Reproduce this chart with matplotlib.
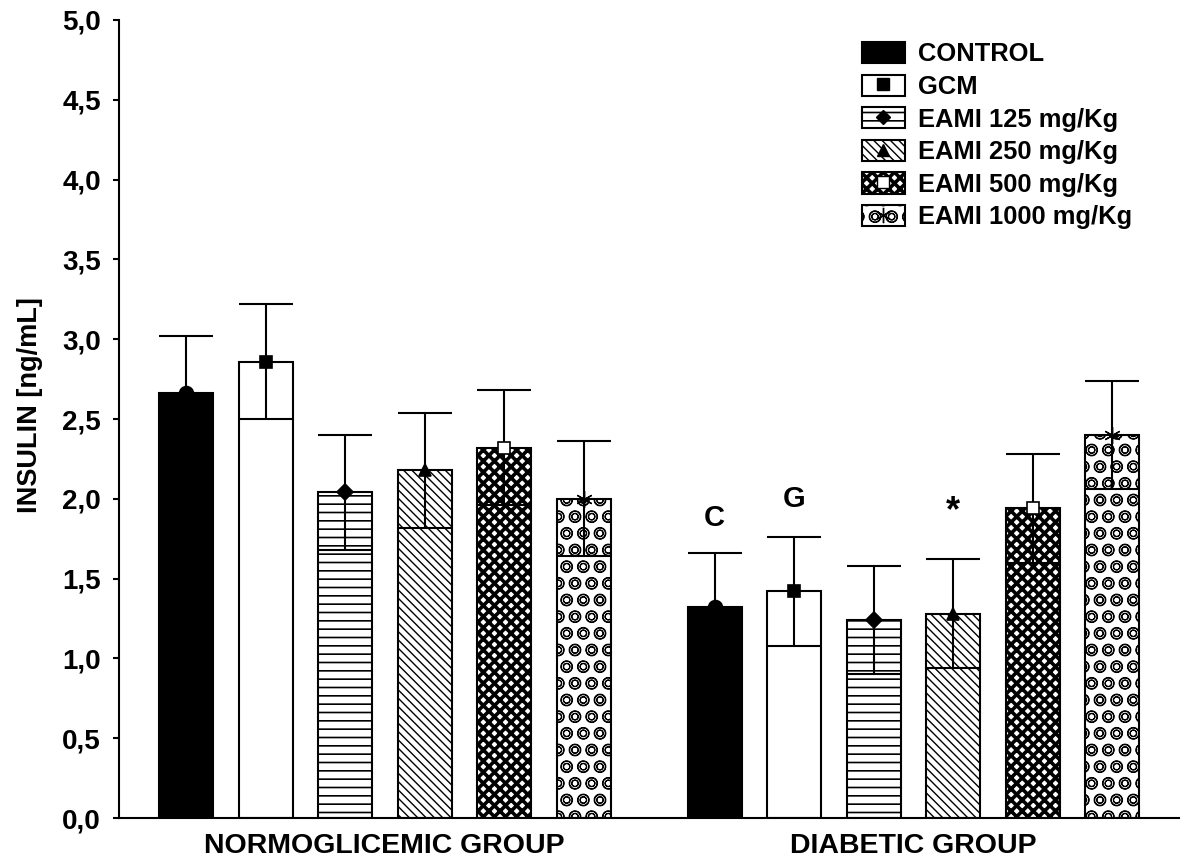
import numpy as np
import matplotlib
matplotlib.use('Agg')
import matplotlib.pyplot as plt
from matplotlib.lines import Line2D
from matplotlib.patches import Patch, Rectangle
from matplotlib.legend_handler import HandlerPatch

plt.rcParams['font.family'] = ['Liberation Sans', 'DejaVu Sans']
plt.rcParams['font.weight'] = 'bold'

groups = ['NORMOGLICEMIC GROUP', 'DIABETIC GROUP']
treatments = ['CONTROL', 'GCM', 'EAMI 125 mg/Kg', 'EAMI 250 mg/Kg',
              'EAMI 500 mg/Kg', 'EAMI 1000 mg/Kg']
# mean insulin and SEM, one row per group
means = np.array([[2.66, 2.86, 2.04, 2.18, 2.32, 2.00],
                  [1.32, 1.42, 1.24, 1.28, 1.94, 2.40]])
sems = np.array([[0.36, 0.36, 0.36, 0.36, 0.36, 0.36],
                 [0.34, 0.34, 0.34, 0.34, 0.34, 0.34]])
# significance letters in the diabetic group
marks = {0: 'C', 1: 'G', 3: '*'}
mark_off = {0: 0.22, 1: 0.24, 3: 0.30}
mark_fs = {0: 21, 1: 21, 3: 26}

faces = ['black', 'white', 'white', 'white', 'white', 'white']
hatches = [None, None, '--', '\\\\\\\\', 'xxx', 'Oo']
hatch_lw = [1.0, 1.0, 1.2, 1.0, 2.6, 0.8]
mk = ['o', 's', 'D', '^', 's', (6, 2, 0)]
mk_face = ['black', 'black', 'black', 'black', 'white', 'black']
mk_size = [10, 9, 8, 9, 9, 12]

width = 0.68
gap = 1.65

fig = plt.figure(figsize=(11.82, 8.61), dpi=100)
ax = fig.add_axes([0.1007, 0.0499, 0.8968, 0.9269])


def make_bar(x, h, i):
    kw = dict(color=faces[i], edgecolor='black', linewidth=1.5, zorder=2)
    if hatches[i]:
        with plt.rc_context({'hatch.linewidth': hatch_lw[i]}):
            b = ax.bar(x, h, width, hatch=hatches[i], **kw)
    else:
        b = ax.bar(x, h, width, **kw)
    return b


centers = []
for g in range(len(groups)):
    xs = np.arange(len(treatments)) + g * (len(treatments) - 1 + gap)
    centers.append(xs.mean())
    for i, x in enumerate(xs):
        m = means[g, i]
        s = sems[g, i]
        make_bar(x, m, i)
        ax.vlines(x, m - s, m + s, color='black', lw=1.5, zorder=3)
        ax.hlines([m - s, m + s], x - width / 2, x + width / 2,
                  color='black', lw=1.5, zorder=3)
        ax.plot(x, m, marker=mk[i], ms=mk_size[i], mfc=mk_face[i],
                mec='black', mew=1.2 if i < 5 else 1.0, ls='none',
                zorder=4, clip_on=False)
        if g == 1 and i in marks:
            ax.text(x, m + s + mark_off[i], marks[i], ha='center',
                    va='center', fontsize=mark_fs[i], fontweight='bold')

ax.set_xlim(-0.843, 12.49)
ax.set_ylim(0, 5)
yt = np.arange(0, 5.01, 0.5)
ax.set_yticks(yt)
ax.set_yticklabels([f'{v:.1f}'.replace('.', ',') for v in yt])
ax.set_xticks(centers)
ax.set_xticklabels(groups)
ax.tick_params(axis='x', length=0, pad=11, labelsize=20.5)
ax.tick_params(axis='y', direction='out', length=4, width=1.5, pad=9,
               labelsize=20)
for t in ax.get_xticklabels() + ax.get_yticklabels():
    t.set_fontweight('bold')

for side in ['top', 'right']:
    ax.spines[side].set_visible(False)
for side in ['left', 'bottom']:
    ax.spines[side].set_linewidth(1.5)

ax.set_ylabel('INSULIN [ng/mL]', fontsize=19.5, fontweight='bold')
ax.yaxis.set_label_coords(-0.0717, 0.5175)


def legend_box(legend, orig_handle, xdescent, ydescent, width, height,
               fontsize):
    lw = getattr(orig_handle, 'hatch_lw', 1.0)
    with plt.rc_context({'hatch.linewidth': lw}):
        r = Rectangle((-xdescent, -ydescent), width, height)
    return r


handles = []
for i in range(len(treatments)):
    p = Patch(facecolor=faces[i], edgecolor='black', linewidth=1.5,
              hatch=hatches[i])
    p.hatch_lw = hatch_lw[i]
    if i == 0:
        handles.append(p)
    else:
        ln = Line2D([], [], marker=mk[i], ms=mk_size[i] - 1, mfc=mk_face[i],
                    mec='black', ls='none')
        handles.append((p, ln))

leg = fig.legend(handles, treatments, loc='upper left',
                 bbox_to_anchor=(862 / 1182, 1 - 42 / 861), frameon=False,
                 borderpad=0, borderaxespad=0, handlelength=1.68,
                 handleheight=0.9, labelspacing=0.32, handletextpad=0.5,
                 prop={'size': 18.4, 'weight': 'bold'},
                 handler_map={Patch: HandlerPatch(patch_func=legend_box)})

fig.savefig('out.png', dpi=100)
